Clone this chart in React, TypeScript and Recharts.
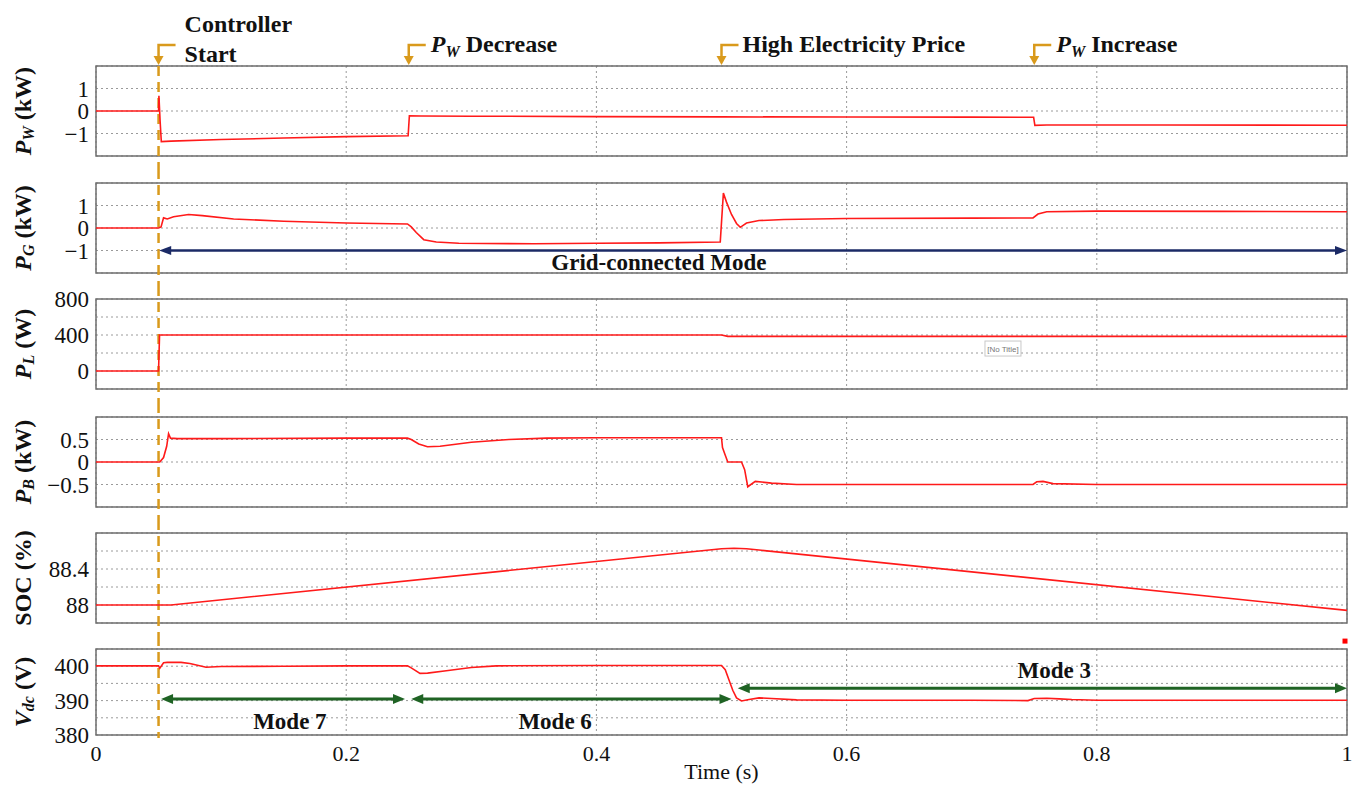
import React from 'react';
import {
  LineChart,
  Line,
  XAxis,
  YAxis,
  CartesianGrid,
  ReferenceLine,
  ReferenceArea,
  ReferenceDot,
} from 'recharts';

const FONT = '"Liberation Serif", "Times New Roman", serif';
const RED = '#ff1a1a';
const ORANGE = '#d99a1c';
const NAVY = '#1b2a66';
const GREEN = '#1f6324';
const GRID = '#9a9a9a';
const W = 1358;
const AXIS_W = 96;
const RIGHT = 11;

const timeTicks = [0, 0.2, 0.4, 0.6, 0.8, 1];

// P_W (kW)
const pwTime = [0, 0.05, 0.0503, 0.0512, 0.0522, 0.06, 0.1, 0.15, 0.2, 0.2495, 0.2505, 0.26, 0.3, 0.4, 0.5, 0.6, 0.7, 0.7495, 0.7505, 0.76, 0.85, 1];
const pwValue = [0, 0, 0.68, -0.4, -1.36, -1.34, -1.27, -1.2, -1.14, -1.1, -0.21, -0.22, -0.23, -0.25, -0.26, -0.27, -0.27, -0.28, -0.64, -0.62, -0.62, -0.63];

// P_G (kW)
const pgTime = [0, 0.05, 0.052, 0.054, 0.057, 0.062, 0.074, 0.085, 0.11, 0.15, 0.2, 0.249, 0.252, 0.256, 0.262, 0.272, 0.29, 0.35, 0.4, 0.45, 0.499, 0.5015, 0.504, 0.508, 0.512, 0.515, 0.52, 0.53, 0.55, 0.6, 0.7, 0.749, 0.753, 0.76, 0.8, 0.9, 1];
const pgValue = [0, 0, 0.05, 0.45, 0.4, 0.5, 0.6, 0.55, 0.4, 0.3, 0.22, 0.18, 0.05, -0.2, -0.52, -0.62, -0.68, -0.7, -0.68, -0.66, -0.62, 1.55, 1.15, 0.6, 0.2, 0.03, 0.22, 0.33, 0.38, 0.42, 0.44, 0.45, 0.62, 0.72, 0.75, 0.74, 0.72];

// P_L (W)
const plTime = [0, 0.05, 0.0508, 0.5, 0.505, 1];
const plValue = [0, 0, 400, 400, 385, 385];

// P_B (kW)
const pbTime = [0, 0.05, 0.051, 0.054, 0.0565, 0.058, 0.0595, 0.065, 0.1, 0.2, 0.249, 0.252, 0.258, 0.265, 0.275, 0.3, 0.33, 0.36, 0.4, 0.45, 0.5, 0.5008, 0.5025, 0.505, 0.516, 0.5185, 0.521, 0.527, 0.54, 0.56, 0.6, 0.7, 0.749, 0.752, 0.757, 0.765, 0.8, 0.9, 1];
const pbValue = [0, 0, 0, 0.1, 0.35, 0.63, 0.53, 0.52, 0.52, 0.53, 0.53, 0.5, 0.4, 0.34, 0.35, 0.44, 0.5, 0.53, 0.54, 0.54, 0.54, 0.32, 0.19, 0, 0, -0.17, -0.55, -0.43, -0.47, -0.5, -0.5, -0.5, -0.5, -0.44, -0.43, -0.48, -0.5, -0.5, -0.5];

// SOC (%)
const socTime = [0, 0.06, 0.5, 0.51, 0.52, 1];
const socValue = [88, 88, 88.625, 88.63, 88.625, 87.94];

// V_dc (V)
const vdcTime = [0, 0.05, 0.051, 0.054, 0.057, 0.068, 0.075, 0.088, 0.1, 0.15, 0.2, 0.249, 0.252, 0.259, 0.265, 0.28, 0.3, 0.32, 0.4, 0.5, 0.503, 0.506, 0.509, 0.512, 0.516, 0.522, 0.53, 0.54, 0.56, 0.6, 0.7, 0.745, 0.75, 0.76, 0.77, 0.78, 0.8, 0.9, 1];
const vdcValue = [400.1, 400.1, 399.4, 401, 401.1, 401.1, 400.8, 399.7, 399.9, 400, 400.1, 400.1, 399.5, 397.9, 398, 398.7, 399.6, 400.1, 400.2, 400.2, 399, 396, 393, 390.8, 389.9, 390.3, 390.8, 390.6, 390.2, 390.1, 390.1, 390, 390.6, 390.7, 390.5, 390.3, 390.1, 390.1, 390.1];

const zip = (t: number[], v: number[]) => t.map((x, i) => ({ t: x, v: v[i] }));
const fmt = (n: number) => (n < 0 ? '\u2212' + Math.abs(n) : String(n));

const yLabel = (main: string, sub: string, unit: string, italic = true) => (props: any) => {
  const vb = props.viewBox || { x: 0, y: 0, width: AXIS_W, height: 90 };
  const cx = vb.x + 23;
  const cy = vb.y + vb.height / 2;
  return (
    <text
      x={cx}
      y={cy}
      transform={`rotate(-90 ${cx} ${cy})`}
      textAnchor="middle"
      dominantBaseline="central"
      fontFamily={FONT}
      fontWeight="bold"
      fontSize={24}
      fill="#111"
    >
      <tspan fontStyle={italic ? 'italic' : 'normal'}>{main}</tspan>
      {sub ? (
        <tspan fontStyle="italic" fontSize={16} dy={5}>
          {sub}
        </tspan>
      ) : null}
      <tspan dy={sub ? -5 : 0}> {unit}</tspan>
    </text>
  );
};

const eventMarker = (content: React.ReactNode) => (p: any) => {
  const x = p.x1;
  const top = Math.min(p.y1, p.y2);
  const hy = top - 21;
  return (
    <g>
      <polyline points={`${x + 17},${hy} ${x},${hy} ${x},${top - 9}`} fill="none" stroke={ORANGE} strokeWidth={2.5} />
      <polygon points={`${x - 5},${top - 10} ${x + 5},${top - 10} ${x},${top - 1}`} fill={ORANGE} />
      <g transform={`translate(${x},${top})`} fontFamily={FONT} fontWeight="bold" fontSize={24} fill="#111">
        {content}
      </g>
    </g>
  );
};

const dashedThrough = (up: number, down: number) => (p: any) => (
  <line
    x1={p.x1}
    x2={p.x2}
    y1={Math.min(p.y1, p.y2) - up}
    y2={Math.max(p.y1, p.y2) + down}
    stroke={ORANGE}
    strokeWidth={2.5}
    strokeDasharray="10 6"
  />
);

const doubleArrow = (color: string, w: number, head: number, half: number) => (p: any) => {
  const a = Math.min(p.x1, p.x2);
  const b = Math.max(p.x1, p.x2);
  const y = p.y1;
  return (
    <g>
      <line x1={a + head - 1} x2={b - head + 1} y1={y} y2={y} stroke={color} strokeWidth={w} />
      <polygon points={`${a},${y} ${a + head},${y - half} ${a + head},${y + half}`} fill={color} />
      <polygon points={`${b},${y} ${b - head},${y - half} ${b - head},${y + half}`} fill={color} />
    </g>
  );
};

const textAt = (text: string) => (p: any) => (
  <text x={p.cx} y={p.cy} textAnchor="middle" fontFamily={FONT} fontWeight="bold" fontSize={23} fill="#111">
    {text}
  </text>
);

type PanelProps = {
  top: number;
  mt: number;
  plotH: number;
  mb: number;
  data: { t: number; v: number }[];
  domain: [number, number];
  ticks: number[];
  shown: number[];
  label: (p: any) => React.ReactElement;
  extra?: React.ReactNode;
  last?: boolean;
};

function Panel({ top, mt, plotH, mb, data, domain, ticks, shown, label, extra, last }: PanelProps) {
  const axisH = last ? 46 : 0;
  return (
    <div style={{ position: 'absolute', left: 0, top }}>
      <LineChart
        width={W}
        height={mt + plotH + mb + axisH}
        data={data}
        margin={{ top: mt, right: RIGHT, bottom: mb, left: 0 }}
      >
        <CartesianGrid stroke={GRID} strokeDasharray="2 3" />
        <XAxis
          dataKey="t"
          type="number"
          domain={[0, 1]}
          ticks={timeTicks}
          interval={0}
          hide={!last}
          height={axisH}
          axisLine={false}
          tickLine={false}
          tickSize={0}
          tickMargin={10}
          tick={{ fontFamily: FONT, fontSize: 22, fill: '#111' }}
          label={(p: any) => {
            const vb = p.viewBox || { x: AXIS_W, y: 735, width: 1251, height: 46 };
            return (
              <text x={vb.x + vb.width / 2} y={vb.y + 44} textAnchor="middle" fontFamily={FONT} fontSize={22} fill="#111">
                Time (s)
              </text>
            );
          }}
        />
        <YAxis
          type="number"
          domain={domain}
          ticks={ticks}
          interval={0}
          allowDataOverflow
          width={AXIS_W}
          axisLine={false}
          tickLine={false}
          tickSize={0}
          tickMargin={7}
          tick={{ fontFamily: FONT, fontSize: 23, fill: '#111' }}
          tickFormatter={(v: number) => (shown.includes(v) ? fmt(v) : '')}
          label={label}
        />
        <ReferenceArea
          x1={0}
          x2={1}
          y1={domain[0]}
          y2={domain[1]}
          fill="none"
          stroke="#6e6e6e"
          strokeWidth={1.5}
          ifOverflow="visible"
        />
        {extra}
        <Line dataKey="v" type="linear" stroke={RED} strokeWidth={1.6} dot={false} isAnimationActive={false} />
      </LineChart>
    </div>
  );
}

export default function App() {
  return (
    <div style={{ position: 'absolute', left: 0, top: 0, width: W, height: 785, background: '#fff', overflow: 'hidden' }}>
      <Panel
        top={0}
        mt={66}
        plotH={90}
        mb={13}
        data={zip(pwTime, pwValue)}
        domain={[-2, 2]}
        ticks={[-1, 0, 1]}
        shown={[-1, 0, 1]}
        label={yLabel('P', 'W', '(kW)')}
        extra={[
          <ReferenceLine key="d" x={0.05} ifOverflow="visible" shape={dashedThrough(0, 13)} />,
          <ReferenceLine
            key="e1"
            x={0.05}
            ifOverflow="visible"
            shape={eventMarker(
              <>
                <text x={26} y={-34}>Controller</text>
                <text x={26} y={-4}>Start</text>
              </>
            )}
          />,
          <ReferenceLine
            key="e2"
            x={0.25}
            ifOverflow="visible"
            shape={eventMarker(
              <text x={22} y={-14}>
                <tspan fontStyle="italic">P</tspan>
                <tspan fontStyle="italic" fontSize={16} dy={5}>W</tspan>
                <tspan dy={-5}> Decrease</tspan>
              </text>
            )}
          />,
          <ReferenceLine
            key="e3"
            x={0.5}
            ifOverflow="visible"
            shape={eventMarker(<text x={21} y={-14}>High Electricity Price</text>)}
          />,
          <ReferenceLine
            key="e4"
            x={0.75}
            ifOverflow="visible"
            shape={eventMarker(
              <text x={22} y={-14}>
                <tspan fontStyle="italic">P</tspan>
                <tspan fontStyle="italic" fontSize={16} dy={5}>W</tspan>
                <tspan dy={-5}> Increase</tspan>
              </text>
            )}
          />,
        ]}
      />
      <Panel
        top={169}
        mt={14}
        plotH={90}
        mb={13}
        data={zip(pgTime, pgValue)}
        domain={[-2, 2]}
        ticks={[-1, 0, 1]}
        shown={[-1, 0, 1]}
        label={yLabel('P', 'G', '(kW)')}
        extra={[
          <ReferenceLine key="d" x={0.05} ifOverflow="visible" shape={dashedThrough(14, 13)} />,
          <ReferenceLine
            key="g"
            segment={[{ x: 0.0505, y: -1 }, { x: 1, y: -1 }]}
            ifOverflow="visible"
            shape={doubleArrow(NAVY, 2.5, 12, 4.5)}
          />,
          <ReferenceDot key="gt" x={0.45} y={-1.87} r={0} ifOverflow="visible" shape={textAt('Grid-connected Mode')} />,
        ]}
      />
      <Panel
        top={286}
        mt={13}
        plotH={90}
        mb={14}
        data={zip(plTime, plValue)}
        domain={[-200, 800]}
        ticks={[0, 200, 400, 600, 800]}
        shown={[0, 400, 800]}
        label={yLabel('P', 'L', '(W)')}
        extra={[
          <ReferenceLine key="d" x={0.05} ifOverflow="visible" shape={dashedThrough(13, 14)} />,
          <ReferenceDot
            key="nt"
            x={0.725}
            y={244}
            r={0}
            ifOverflow="visible"
            shape={(p: any) => (
              <g>
                <rect x={p.cx - 18} y={p.cy - 8} width={36} height={15} fill="#fff" stroke="#c8c8c8" />
                <text x={p.cx} y={p.cy + 3} textAnchor="middle" fontFamily="Arial, sans-serif" fontSize={8} fill="#777">
                  [No Title]
                </text>
              </g>
            )}
          />,
        ]}
      />
      <Panel
        top={403}
        mt={14}
        plotH={90}
        mb={13}
        data={zip(pbTime, pbValue)}
        domain={[-1, 1]}
        ticks={[-0.5, 0, 0.5]}
        shown={[-0.5, 0, 0.5]}
        label={yLabel('P', 'B', '(kW)')}
        extra={[<ReferenceLine key="d" x={0.05} ifOverflow="visible" shape={dashedThrough(14, 13)} />]}
      />
      <Panel
        top={520}
        mt={13}
        plotH={90}
        mb={13}
        data={zip(socTime, socValue)}
        domain={[87.8, 88.8]}
        ticks={[88, 88.2, 88.4, 88.6]}
        shown={[88, 88.4]}
        label={yLabel('SOC', '', '(%)', false)}
        extra={[<ReferenceLine key="d" x={0.05} ifOverflow="visible" shape={dashedThrough(13, 13)} />]}
      />
      <Panel
        top={636}
        mt={13}
        plotH={86}
        mb={4}
        last
        data={zip(vdcTime, vdcValue)}
        domain={[380, 405]}
        ticks={[380, 385, 390, 395, 400]}
        shown={[380, 390, 400]}
        label={yLabel('V', 'dc', '(V)')}
        extra={[
          <ReferenceLine key="d" x={0.05} ifOverflow="visible" shape={dashedThrough(13, 3)} />,
          <ReferenceLine
            key="m7"
            segment={[{ x: 0.052, y: 390.5 }, { x: 0.247, y: 390.5 }]}
            ifOverflow="visible"
            shape={doubleArrow(GREEN, 3, 12, 5)}
          />,
          <ReferenceLine
            key="m6"
            segment={[{ x: 0.252, y: 390.5 }, { x: 0.508, y: 390.5 }]}
            ifOverflow="visible"
            shape={doubleArrow(GREEN, 3, 12, 5)}
          />,
          <ReferenceLine
            key="m3"
            segment={[{ x: 0.513, y: 393.6 }, { x: 1, y: 393.6 }]}
            ifOverflow="visible"
            shape={doubleArrow(GREEN, 3, 12, 5)}
          />,
          <ReferenceDot key="t7" x={0.155} y={381.7} r={0} ifOverflow="visible" shape={textAt('Mode 7')} />,
          <ReferenceDot key="t6" x={0.367} y={381.7} r={0} ifOverflow="visible" shape={textAt('Mode 6')} />,
          <ReferenceDot key="t3" x={0.766} y={396.6} r={0} ifOverflow="visible" shape={textAt('Mode 3')} />,
          <ReferenceDot
            key="sq"
            x={0.9984}
            y={407.3}
            r={0}
            ifOverflow="visible"
            shape={(p: any) => <rect x={p.cx - 2.5} y={p.cy - 2.5} width={5} height={5} fill="#ff0000" />}
          />,
        ]}
      />
    </div>
  );
}
